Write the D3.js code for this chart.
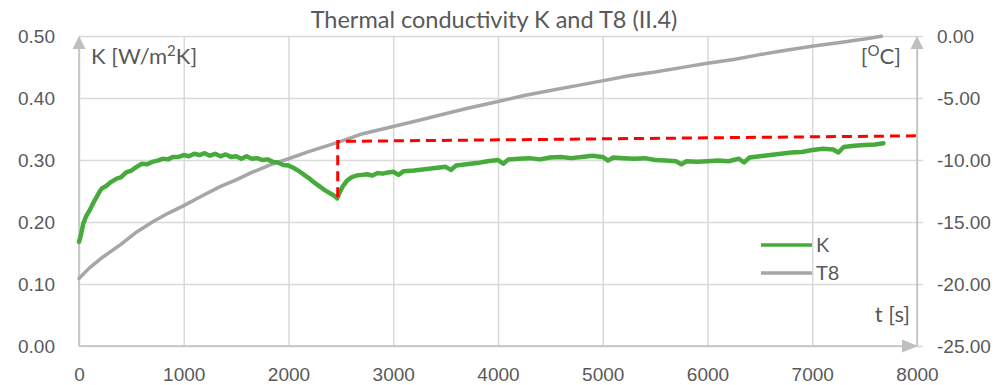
<!DOCTYPE html>
<html>
<head>
<meta charset="utf-8">
<title></title>
<script src="https://d3js.org/d3.v7.min.js"></script>
<style>
body { margin: 0; background: #fff; }
svg { font-family: Lato, "Open Sans", sans-serif; }
</style>
</head>
<body>
<div id="chart"></div>
<script>
const W = 1007, H = 385;
const margin = { top: 36, right: 90, bottom: 39, left: 79 };

// K series (left axis)
const kTime = [0, 20, 40, 70, 105, 150, 200, 217, 260, 300, 360, 400, 450, 500, 550, 600, 650, 700, 750, 800,
  850, 900, 950, 1000, 1050, 1100, 1150, 1200, 1250, 1300, 1350, 1400, 1450, 1500, 1550, 1600, 1650, 1700, 1750, 1800,
  1850, 1900, 1950, 2000, 2050, 2100, 2150, 2200, 2250, 2300, 2350, 2400, 2440, 2465, 2490, 2520, 2560, 2600, 2650, 2700,
  2750, 2800, 2850, 2900, 2950, 3000, 3050, 3100, 3200, 3300, 3400, 3500, 3550, 3600, 3700, 3800, 3900, 4000, 4050, 4100,
  4200, 4300, 4400, 4500, 4600, 4700, 4800, 4900, 5000, 5050, 5100, 5200, 5300, 5400, 5500, 5600, 5700, 5750, 5800, 5900,
  6000, 6100, 6200, 6300, 6350, 6400, 6500, 6600, 6700, 6800, 6900, 7000, 7100, 7200, 7250, 7300, 7400, 7500, 7600, 7680];
const kValue = [0.168, 0.180, 0.197, 0.210, 0.220, 0.235, 0.250, 0.254, 0.258, 0.264, 0.270, 0.272, 0.280, 0.283, 0.289, 0.294, 0.293, 0.297, 0.299, 0.302,
  0.301, 0.305, 0.305, 0.308, 0.306, 0.310, 0.308, 0.311, 0.307, 0.310, 0.306, 0.309, 0.305, 0.306, 0.302, 0.306, 0.302, 0.303, 0.300, 0.301,
  0.297, 0.296, 0.292, 0.291, 0.287, 0.282, 0.276, 0.270, 0.263, 0.257, 0.251, 0.246, 0.242, 0.238, 0.248, 0.258, 0.267, 0.272, 0.275, 0.276,
  0.277, 0.275, 0.279, 0.278, 0.280, 0.281, 0.276, 0.282, 0.283, 0.285, 0.287, 0.289, 0.284, 0.291, 0.293, 0.295, 0.298, 0.300, 0.294, 0.301,
  0.302, 0.303, 0.301, 0.304, 0.305, 0.303, 0.305, 0.307, 0.305, 0.299, 0.304, 0.303, 0.302, 0.303, 0.300, 0.299, 0.298, 0.293, 0.298, 0.297,
  0.298, 0.299, 0.298, 0.302, 0.296, 0.304, 0.306, 0.308, 0.310, 0.312, 0.313, 0.316, 0.318, 0.317, 0.312, 0.321, 0.323, 0.324, 0.325, 0.327];

// T8 series (right axis)
const tTime = [0, 100, 232, 400, 551, 700, 850, 996, 1150, 1347, 1500, 1650, 1824, 2000, 2200, 2493, 2700, 3000, 3257,
  3448, 3700, 3990, 4250, 4500, 4750, 5008, 5250, 5500, 5804, 6000, 6250, 6500, 6750, 7013, 7250, 7500, 7660];
const tValue = [-19.55, -18.7, -17.8, -16.8, -15.8, -15.0, -14.3, -13.7, -13.0, -12.15, -11.6, -11.0, -10.4, -9.9, -9.3, -8.52, -7.9, -7.3, -6.77,
  -6.37, -5.85, -5.3, -4.8, -4.4, -4.0, -3.6, -3.2, -2.9, -2.47, -2.2, -1.9, -1.5, -1.15, -0.81, -0.55, -0.25, -0.02];

// red dashed guide (left axis units)
const refTime = [2470, 2470, 8000];
const refK = [0.240, 0.330, 0.339];

const xTicks = [0, 1000, 2000, 3000, 4000, 5000, 6000, 7000, 8000];
const kTicks = [0, 0.1, 0.2, 0.3, 0.4, 0.5];
const tTicks = [-25, -20, -15, -10, -5, 0];

const width = W - margin.left - margin.right;
const height = H - margin.top - margin.bottom;

const x = d3.scaleLinear().domain([0, 8000]).range([0, width]);
const yK = d3.scaleLinear().domain([0, 0.5]).range([height, 0]);
const yT = d3.scaleLinear().domain([-25, 0]).range([height, 0]);

const svg = d3.select('#chart').append('svg')
  .attr('width', W).attr('height', H);
const g = svg.append('g').attr('transform', `translate(${margin.left},${margin.top})`);

const textColor = '#595959';
const axisColor = '#bfbfbf';
const fmt2 = d => d3.format('.2f')(d).replace('\u2212', '-');

// gridlines
g.append('g')
  .call(d3.axisLeft(yK).tickValues(kTicks).tickSize(-width).tickFormat(''))
  .call(s => s.select('.domain').remove())
  .call(s => s.selectAll('.tick line').attr('stroke', '#d9d9d9').attr('stroke-width', 1.5));
g.append('g')
  .attr('transform', `translate(0,${height})`)
  .call(d3.axisBottom(x).tickValues(xTicks).tickSize(-height).tickFormat(''))
  .call(s => s.select('.domain').remove())
  .call(s => s.selectAll('.tick line').attr('stroke', '#d9d9d9').attr('stroke-width', 1.5));

// tick labels
g.append('g')
  .call(d3.axisLeft(yK).tickValues(kTicks).tickSize(0).tickPadding(24).tickFormat(fmt2))
  .call(s => s.select('.domain').remove())
  .call(s => s.selectAll('text').attr('fill', textColor).style('font-size', '19px'));
g.append('g')
  .attr('transform', `translate(${width},0)`)
  .call(d3.axisRight(yT).tickValues(tTicks).tickSize(6).tickPadding(14).tickFormat(fmt2))
  .call(s => s.select('.domain').remove())
  .call(s => s.selectAll('line').attr('stroke', '#d9d9d9').attr('stroke-width', 1.5))
  .call(s => s.selectAll('text').attr('fill', textColor).style('font-size', '19px'));
g.append('g')
  .attr('transform', `translate(0,${height})`)
  .call(d3.axisBottom(x).tickValues(xTicks).tickSize(0).tickPadding(22).tickFormat(d3.format('d')))
  .call(s => s.select('.domain').remove())
  .call(s => s.selectAll('text').attr('fill', textColor).style('font-size', '19px'));

// axis lines with arrowheads
const axes = g.append('g').attr('stroke', axisColor).attr('stroke-width', 1.5);
axes.append('line').attr('x1', 0).attr('x2', 0).attr('y1', height).attr('y2', 8);
axes.append('line').attr('x1', width).attr('x2', width).attr('y1', height).attr('y2', 8);
axes.append('line').attr('x1', 0).attr('x2', width - 8).attr('y1', height).attr('y2', height);
const arrows = g.append('g').attr('fill', axisColor);
arrows.append('path').attr('d', `M0,0 L-6.5,13 L6.5,13 Z`);
arrows.append('path').attr('d', `M${width},0 L${width - 6.5},13 L${width + 6.5},13 Z`);
arrows.append('path').attr('d', `M${width + 1},${height} L${width - 15},${height - 6.5} L${width - 15},${height + 6.5} Z`);

// lines
const kLine = d3.line().x(i => x(kTime[i])).y(i => yK(kValue[i]));
const tLine = d3.line().x(i => x(tTime[i])).y(i => yT(tValue[i]));
const refLine = d3.line().x(i => x(refTime[i])).y(i => yK(refK[i]));

g.append('path')
  .attr('d', tLine(d3.range(tTime.length)))
  .attr('fill', 'none').attr('stroke', '#a6a6a6').attr('stroke-width', 3.5)
  .attr('stroke-linejoin', 'round').attr('stroke-linecap', 'round');
g.append('path')
  .attr('d', kLine(d3.range(kTime.length)))
  .attr('fill', 'none').attr('stroke', '#47ab3c').attr('stroke-width', 4.5)
  .attr('stroke-linejoin', 'round').attr('stroke-linecap', 'round');
g.append('path')
  .attr('d', refLine(d3.range(refTime.length)))
  .attr('fill', 'none').attr('stroke', '#ff0000').attr('stroke-width', 3)
  .attr('stroke-dasharray', '10,6');

// axis titles
const kt = g.append('text').attr('x', 12).attr('y', 28).attr('fill', textColor).style('font-size', '22px');
kt.append('tspan').text('K [W/m');
kt.append('tspan').text('2').attr('dy', -8).style('font-size', '15px');
kt.append('tspan').text('K]').attr('dy', 8);

const ct = g.append('text').attr('x', width - 16).attr('y', 28).attr('text-anchor', 'end').attr('fill', textColor).style('font-size', '22px');
ct.append('tspan').text('[');
ct.append('tspan').text('O').attr('dy', -8).style('font-size', '15px');
ct.append('tspan').text('C]').attr('dy', 8);

g.append('text').attr('x', width - 7).attr('y', height - 24).attr('text-anchor', 'end')
  .attr('fill', textColor).style('font-size', '22px').text('t [s]');

// title
svg.append('text').attr('x', margin.left + width / 2 - 4).attr('y', 28).attr('text-anchor', 'middle')
  .attr('fill', textColor).style('font-size', '23.5px').text('Thermal conductivity K and T8 (II.4)');

// legend
const legend = svg.append('g').attr('transform', 'translate(761,245)');
const legendItems = [['K', '#47ab3c'], ['T8', '#a6a6a6']];
legendItems.forEach(([name, color], i) => {
  legend.append('line').attr('x1', 0).attr('x2', 51).attr('y1', i * 28).attr('y2', i * 28)
    .attr('stroke', color).attr('stroke-width', 3.5);
  legend.append('text').attr('x', 55).attr('y', i * 28).attr('dy', '0.35em')
    .attr('fill', textColor).style('font-size', '20px').text(name);
});
</script>
</body>
</html>
